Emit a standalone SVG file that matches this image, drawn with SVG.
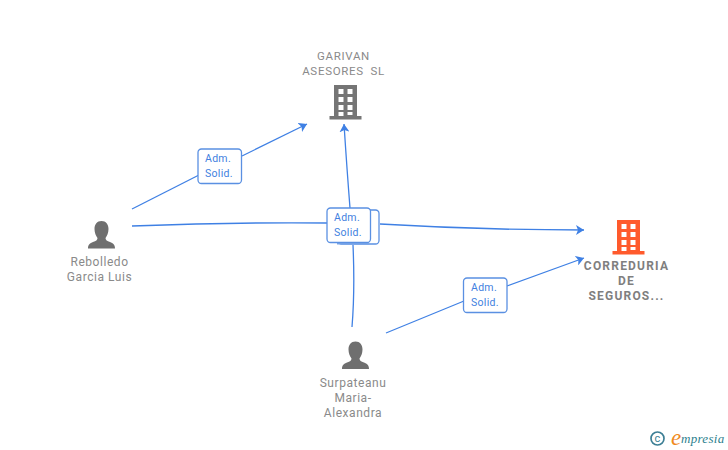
<svg xmlns="http://www.w3.org/2000/svg" width="728" height="450" viewBox="0 0 728 450">
<style>
text{font-family:Roboto,"Liberation Sans",sans-serif}
.n{font-size:12px;fill:#8a8a8a;text-anchor:middle;letter-spacing:.55px}
.g{font-size:11.500px;letter-spacing:.7px}
.b{font-size:12px;font-weight:700;fill:#7f7f7f;text-anchor:middle;letter-spacing:1.200px}
.l{font-size:10.500px;fill:#3f7fe0;letter-spacing:.3px}
.c{fill:none;stroke:#3f80e4;stroke-width:1.300}
.box{fill:#fff;stroke:#5a90e2;stroke-width:1.300}
</style>
<defs>
<marker id="a" markerUnits="userSpaceOnUse" markerWidth="9" markerHeight="10" refX="8" refY="5" orient="auto"><path d="M0 0L8 5L0 10L2 5Z" fill="#3f80e4"/></marker>
<path id="bld" fill-rule="evenodd" d="M4.500 0H27.500V31H32V34.500H0V31H4.500ZM9 4V9H14V4ZM18 4V9H23V4ZM9 12V17H14V12ZM18 12V17H23V12ZM9 20V25H14V20ZM18 20V25H23V20ZM9 27V31H14V27ZM18 27V30H23V27Z"/>
<path id="per" d="M13.500 0C18 0 20.500 3.500 20.500 8C20.500 12 19 15 17.500 17C17.500 19 19 20 22 21C25 22 27 23.500 27 27.500H0C0 23.500 2 22 5 21C8 20 9.500 19 9.500 17C8 15 6.500 12 6.500 8C6.500 3.500 9 0 13.500 0Z" fill="#6f6f6f"/>
</defs>
<g id="connectors">
<path class="c" d="M132 209L199 175"/>
<path class="c" d="M242 156L307 124" marker-end="url(#a)"/>
<path class="c" d="M350 208Q347 170 344 124" marker-end="url(#a)"/>
<path class="c" d="M132 226Q240 222 327 223"/>
<path class="c" d="M380 224Q480 230 584 230" marker-end="url(#a)"/>
<path class="c" d="M352 327Q355 290 353 245"/>
<path class="c" d="M386 333L464 301"/>
<path class="c" d="M507 286L584 258" marker-end="url(#a)"/>
</g>
<g id="node-garivan">
<text class="n g" x="343.500" y="60">GARIVAN</text>
<text class="n g" x="343.500" y="75" style="word-spacing:3px">ASESORES SL</text>
<use href="#bld" x="329.500" y="85" fill="#757575"/>
</g>
<g id="node-correduria">
<use href="#bld" x="612.500" y="220" fill="#ff5a2c"/>
<text class="b" x="626.500" y="270">CORREDURIA</text>
<text class="b" x="626.500" y="285">DE</text>
<text class="b" x="626.500" y="300">SEGUROS...</text>
</g>
<g id="node-rebolledo">
<use href="#per" x="88" y="221"/>
<text class="n" x="99.500" y="266">Rebolledo</text>
<text class="n" x="99.500" y="281">Garcia Luis</text>
</g>
<g id="node-surpateanu">
<use href="#per" x="342" y="341.500"/>
<text class="n" x="353" y="387">Surpateanu</text>
<text class="n" x="353" y="402">Maria-</text>
<text class="n" x="353" y="417">Alexandra</text>
</g>
<g id="label-1">
<rect class="box" x="198" y="149" width="43.500" height="34.500" rx="3.500"/>
<text class="l" x="205" y="162">Adm.</text>
<text class="l" x="205" y="177">Solid.</text>
</g>
<g id="label-2">
<rect class="box" x="338" y="210" width="41" height="34" rx="3.500"/>
<rect x="337" y="243" width="32" height="1.500" fill="#7aa6e8"/>
<rect class="box" x="327" y="208" width="43.500" height="34.500" rx="3.500"/>
<text class="l" x="334" y="221">Adm.</text>
<text class="l" x="334" y="236">Solid.</text>
</g>
<g id="label-3">
<rect class="box" x="463.500" y="278" width="43.500" height="34.500" rx="3.500"/>
<text class="l" x="471" y="291">Adm.</text>
<text class="l" x="471" y="306">Solid.</text>
</g>
<g id="brand">
<circle cx="657.500" cy="438.500" r="6.500" fill="none" stroke="#3d7f95" stroke-width="1.700"/>
<text x="657.500" y="442" font-size="11" text-anchor="middle" fill="#3d7f95">c</text>
<text x="671" y="445" font-size="23" font-style="italic" fill="#f08a1d" style="font-family:'Liberation Serif',serif">e</text>
<text x="681" y="443" font-size="13" font-style="italic" fill="#2e7f8e" style="font-family:'Liberation Serif',serif;letter-spacing:.3px">mpresia</text>
</g>
</svg>
